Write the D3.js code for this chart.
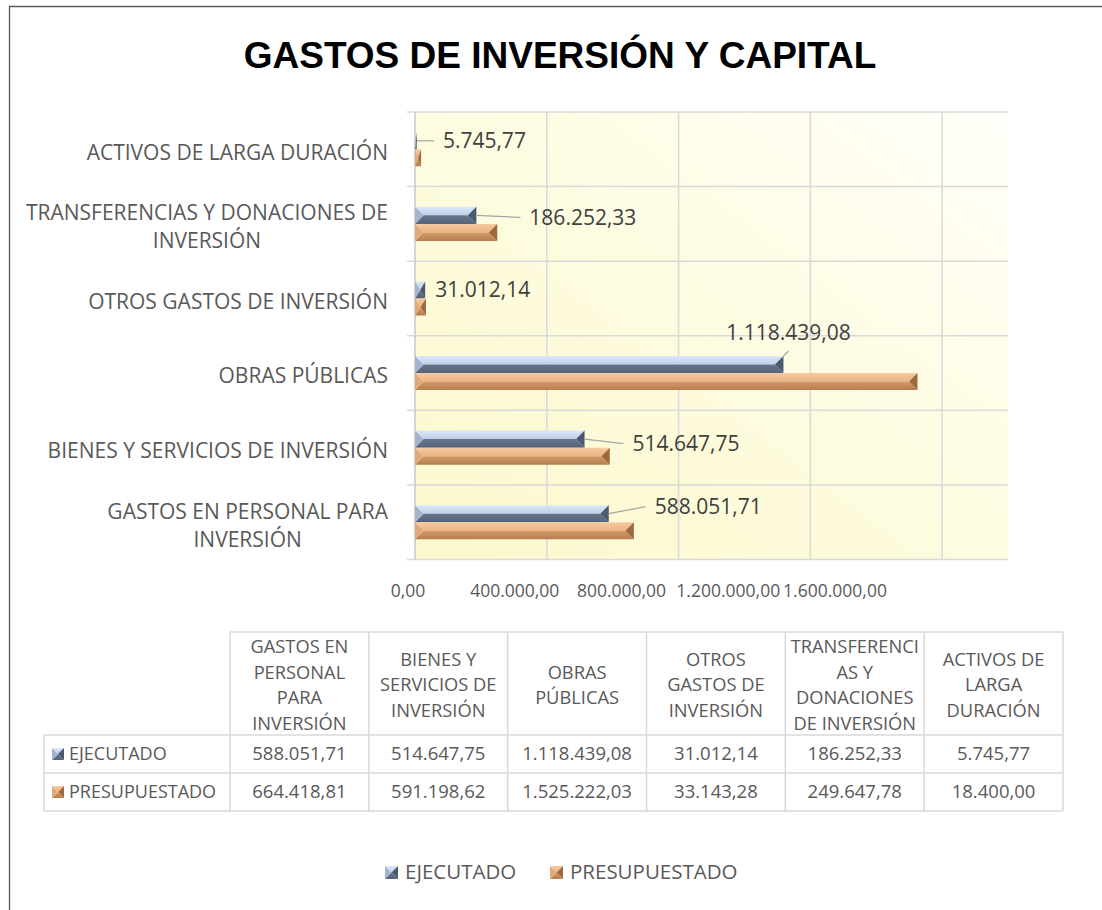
<!DOCTYPE html>
<html lang="es">
<head>
<meta charset="utf-8">
<title>Gastos de inversión y capital</title>
<script src="https://cdn.jsdelivr.net/npm/d3@7"></script>
<style>
body { margin: 0; background: #fff; }
svg text { font-family: "Open Sans", "Noto Sans", sans-serif; }
.tit { font-family: "Liberation Sans", Arial, sans-serif !important; font-weight: bold; }
</style>
</head>
<body>
<svg width="1102" height="910"></svg>
<script>

// datos (orden de la tabla, de abajo hacia arriba en el gráfico)
var categories = ["GASTOS EN PERSONAL PARA INVERSIÓN", "BIENES Y SERVICIOS DE INVERSIÓN", "OBRAS PÚBLICAS",
                  "OTROS GASTOS DE INVERSIÓN", "TRANSFERENCIAS Y DONACIONES DE INVERSIÓN", "ACTIVOS DE LARGA DURACIÓN"];
var axisLines = [["GASTOS EN PERSONAL PARA", "INVERSIÓN"], ["BIENES Y SERVICIOS DE INVERSIÓN"], ["OBRAS PÚBLICAS"],
                 ["OTROS GASTOS DE INVERSIÓN"], ["TRANSFERENCIAS Y DONACIONES DE", "INVERSIÓN"], ["ACTIVOS DE LARGA DURACIÓN"]];
var headerLines = [["GASTOS EN", "PERSONAL", "PARA", "INVERSIÓN"], ["BIENES Y", "SERVICIOS DE", "INVERSIÓN"], ["OBRAS", "PÚBLICAS"],
                   ["OTROS", "GASTOS DE", "INVERSIÓN"], ["TRANSFERENCI", "AS Y", "DONACIONES", "DE INVERSIÓN"], ["ACTIVOS DE", "LARGA", "DURACIÓN"]];
var series = ["EJECUTADO", "PRESUPUESTADO"];
var ejecutado = [588051.71, 514647.75, 1118439.08, 31012.14, 186252.33, 5745.77];
var presupuestado = [664418.81, 591198.62, 1525222.03, 33143.28, 249647.78, 18400.00];
var xTicks = [0, 400000, 800000, 1200000, 1600000];

// desplazamiento de las etiquetas de datos (movidas a mano en el original)
var labelOffsets = [[46, -7], [48, 4.5], [5, -32], [10, 0], [53, 2], [26, 0]];

var loc = d3.formatLocale({decimal: ",", thousands: ".", grouping: [3], currency: ["", ""]});
var fmt = loc.format(",.2f");

var svg = d3.select("svg");
var defs = svg.append("defs");

// fondo del área de trazado
var bg = defs.append("linearGradient").attr("id", "bgGrad")
    .attr("x1", 0).attr("y1", 1).attr("x2", 1).attr("y2", 0);
bg.append("stop").attr("offset", "0%").attr("stop-color", "#fcf8cc");
bg.append("stop").attr("offset", "60%").attr("stop-color", "#fefce4");
bg.append("stop").attr("offset", "100%").attr("stop-color", "#fffffa");

var facets = {
  "EJECUTADO":     {top: ["#dbe8f8", "#bccfeb"], bot: ["#66758c", "#56647a"], left: "#a3b3d2", right: "#4b596e"},
  "PRESUPUESTADO": {top: ["#f7cba2", "#eab283"], bot: ["#d39a69", "#b77d50"], left: "#e2a875", right: "#a1683e"}
};
series.forEach(function(s, i) {
  ["top", "bot"].forEach(function(k) {
    var g = defs.append("linearGradient").attr("id", "g" + i + k).attr("x1", 0).attr("y1", 0).attr("x2", 0).attr("y2", 1);
    g.append("stop").attr("offset", "0%").attr("stop-color", facets[s][k][0]);
    g.append("stop").attr("offset", "100%").attr("stop-color", facets[s][k][1]);
  });
});

// marco
svg.append("path").attr("d", "M9.5,910 V6.5 H1102")
    .attr("fill", "none").attr("stroke", "#595959").attr("stroke-width", 1.3);

svg.append("text").attr("class", "tit")
    .attr("x", 560).attr("y", 68).attr("text-anchor", "middle")
    .attr("font-size", 37).attr("fill", "#000")
    .text("GASTOS DE INVERSIÓN Y CAPITAL");

var plot = {left: 415, right: 1008, top: 112, bottom: 559.5};

var x = d3.scaleLinear().domain([0, 1800000]).range([plot.left, plot.right]);
var y0 = d3.scaleBand().domain(categories.slice().reverse()).range([plot.top, plot.bottom])
    .paddingInner(0.544).paddingOuter(0.272);
var y1 = d3.scaleBand().domain(series).range([0, y0.bandwidth()]);

svg.append("rect").attr("x", plot.left).attr("y", plot.top)
    .attr("width", plot.right - plot.left).attr("height", plot.bottom - plot.top)
    .attr("fill", "url(#bgGrad)");

// líneas de la cuadrícula
svg.selectAll(".vgrid").data(xTicks.slice(1)).enter().append("line")
    .attr("x1", function(d) { return x(d); }).attr("x2", function(d) { return x(d); })
    .attr("y1", plot.top).attr("y2", plot.bottom)
    .attr("stroke", "#d9d9d9").attr("stroke-width", 1.5);

var bounds = categories.map(function(c) { return y0(c) - y0.step() * 0.272; });
bounds.push(plot.bottom);
svg.selectAll(".hgrid").data(bounds).enter().append("line")
    .attr("x1", plot.left - 8).attr("x2", plot.right)
    .attr("y1", function(d) { return d; }).attr("y2", function(d) { return d; })
    .attr("stroke", "#d9d9d9").attr("stroke-width", 1.5);

svg.append("line").attr("x1", plot.left).attr("x2", plot.left)
    .attr("y1", plot.top).attr("y2", plot.bottom)
    .attr("stroke", "#c8c8c8").attr("stroke-width", 1.5);

// barras con bisel
function bevel(g, x0, x1, yt, h, i) {
  var w = x1 - x0, b = Math.min(h / 2, w / 2), ym = yt + h / 2, yb = yt + h;
  g.append("polygon").attr("points", [[x0, yt], [x1, yt], [x1 - b, ym], [x0 + b, ym]].join(" ")).attr("fill", "url(#g" + i + "top)");
  g.append("polygon").attr("points", [[x0 + b, ym], [x1 - b, ym], [x1, yb], [x0, yb]].join(" ")).attr("fill", "url(#g" + i + "bot)");
  g.append("polygon").attr("points", [[x0, yt], [x0 + b, ym], [x0, yb]].join(" ")).attr("fill", facets[series[i]].left);
  g.append("polygon").attr("points", [[x1, yt], [x1 - b, ym], [x1, yb]].join(" ")).attr("fill", facets[series[i]].right);
}

var values = [ejecutado, presupuestado];
categories.forEach(function(c, ci) {
  series.forEach(function(s, si) {
    var g = svg.append("g").attr("class", "bar");
    bevel(g, x(0), x(values[si][ci]), y0(c) + y1(s), y1.bandwidth(), si);
  });
});

// etiquetas de datos (solo ejecutado)
categories.forEach(function(c, ci) {
  var v = ejecutado[ci], bx = x(v), by = y0(c) + y1("EJECUTADO") + y1.bandwidth() / 2;
  var off = labelOffsets[ci];
  if (off[1] < -20) {
    svg.append("line").attr("x1", bx).attr("y1", by - y1.bandwidth() / 2)
        .attr("x2", bx + off[0]).attr("y2", by - y1.bandwidth() / 2 - 5)
        .attr("stroke", "#a6a6a6").attr("stroke-width", 1.2);
    svg.append("text").attr("x", bx + off[0]).attr("y", by + off[1]).attr("dy", "0.35em")
        .attr("text-anchor", "middle").attr("font-size", 21).attr("fill", "#404040").text(fmt(v));
  } else {
    if (off[0] > 20) {
      svg.append("line").attr("x1", bx).attr("y1", by).attr("x2", bx + off[0] - 9).attr("y2", by + off[1])
          .attr("stroke", "#a6a6a6").attr("stroke-width", 1.2);
    }
    svg.append("text").attr("x", bx + off[0]).attr("y", by + off[1]).attr("dy", "0.35em")
        .attr("font-size", 21).attr("fill", "#404040").text(fmt(v));
  }
});

// etiquetas del eje de categorías
categories.forEach(function(c, ci) {
  var lines = axisLines[ci], cy = y0(c) + y0.bandwidth() / 2 + 3, lh = 28;
  var t = svg.append("text").attr("font-size", 21).attr("fill", "#595959").attr("text-anchor", "middle");
  var tmp = svg.append("text").attr("font-size", 21).text(lines[0]);
  var w0 = tmp.node().getComputedTextLength();
  tmp.remove();
  lines.forEach(function(l, li) {
    t.append("tspan").attr("x", 388 - w0 / 2)
        .attr("y", cy + (li - (lines.length - 1) / 2) * lh).attr("dy", "0.35em").text(l);
  });
});

// etiquetas del eje de valores (Excel las comprime hacia la izquierda)
var tickX = d3.scalePoint().domain(xTicks).range([408, 835]);
svg.selectAll(".tick").data(xTicks).enter().append("text")
    .attr("x", function(d) { return tickX(d); }).attr("y", 591).attr("dy", "0.35em")
    .attr("text-anchor", "middle").attr("font-size", 17.5).attr("fill", "#595959")
    .text(function(d) { return fmt(d); });

// tabla de datos
var tb = {left: 44, colLeft: 230, right: 1063, top: 632, head: 735, row: 38};
var cx = d3.scaleBand().domain(categories).range([tb.colLeft, tb.right]);
var rowY = d3.scaleBand().domain(series).range([tb.head, tb.head + 2 * tb.row]);
var lineC = "#d9d9d9";

svg.append("line").attr("x1", tb.colLeft).attr("x2", tb.right).attr("y1", tb.top).attr("y2", tb.top).attr("stroke", lineC).attr("stroke-width", 1.5);
[tb.head, tb.head + tb.row, tb.head + 2 * tb.row].forEach(function(yy) {
  svg.append("line").attr("x1", tb.left).attr("x2", tb.right).attr("y1", yy).attr("y2", yy).attr("stroke", lineC).attr("stroke-width", 1.5);
});
svg.append("line").attr("x1", tb.left).attr("x2", tb.left).attr("y1", tb.head).attr("y2", tb.head + 2 * tb.row).attr("stroke", lineC).attr("stroke-width", 1.5);
categories.concat([null]).forEach(function(c) {
  var xx = c ? cx(c) : tb.right;
  svg.append("line").attr("x1", xx).attr("x2", xx).attr("y1", tb.top).attr("y2", tb.head + 2 * tb.row).attr("stroke", lineC).attr("stroke-width", 1.5);
});

categories.forEach(function(c, ci) {
  var lines = headerLines[ci], lh = 25.5, mid = 685;
  var t = svg.append("text").attr("font-size", 18.3).attr("fill", "#595959").attr("text-anchor", "middle");
  lines.forEach(function(l, li) {
    t.append("tspan").attr("x", cx(c) + cx.bandwidth() / 2)
        .attr("y", mid + (li - (lines.length - 1) / 2) * lh).attr("dy", "0.35em").text(l);
  });
  series.forEach(function(s, si) {
    svg.append("text").attr("x", cx(c) + cx.bandwidth() / 2).attr("y", rowY(s) + tb.row / 2).attr("dy", "0.35em")
        .attr("text-anchor", "middle").attr("font-size", 18.5).attr("fill", "#595959").text(fmt(values[si][ci]));
  });
});

function marker(g, mx, my, si, size) {
  bevel(g, mx, mx + size, my, size, si);
}

series.forEach(function(s, si) {
  var yy = rowY(s) + tb.row / 2;
  marker(svg.append("g"), 52, yy - 6, si, 12);
  svg.append("text").attr("x", 69).attr("y", yy).attr("dy", "0.35em")
      .attr("font-size", 18).attr("fill", "#595959").text(s);
});

// leyenda
var legX = d3.scaleOrdinal().domain(series).range([385, 550]);
series.forEach(function(s, si) {
  marker(svg.append("g"), legX(s), 866, si, 13);
  svg.append("text").attr("x", legX(s) + 20).attr("y", 872).attr("dy", "0.35em")
      .attr("font-size", 20.5).attr("fill", "#595959").text(s);
});

</script>
</body>
</html>
